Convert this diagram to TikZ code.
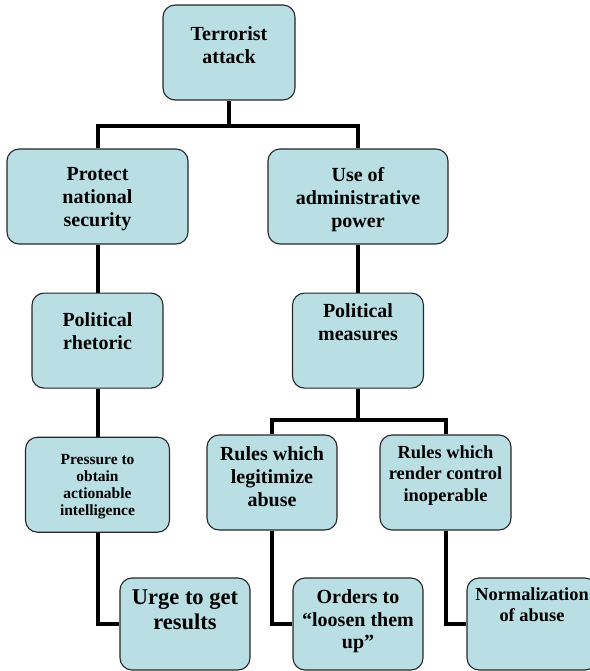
\documentclass[tikz,border=0pt]{standalone}
\usepackage{fontspec}
\setmainfont{Liberation Serif}
\usetikzlibrary{positioning}
\definecolor{boxblue}{RGB}{185,223,228}
\tikzset{
  box/.style={draw=black!85, fill=boxblue, line width=1.1pt, rounded corners=12pt,
    minimum width=130pt, minimum height=95pt, inner sep=0pt},
  wide/.style={box, minimum width=180pt},
  txt/.style={inner sep=0pt, align=center, font=\bfseries\fontsize{20}{23}\selectfont},
  link/.style={line width=4pt}
}

\begin{document}
\begin{tikzpicture}[x=1pt,y=-1pt]
  \useasboundingbox (0,0) rectangle (589,671);
  % boxes
  \node[box, minimum width=132pt] (attack) at (229,52.5) {};
  \node[wide, minimum width=181pt] (security) at (97.5,196.5) {};
  \node[wide] (admin) at (358,196.5) {};
  \node[box, minimum width=131pt] (rhetoric) [below=48pt of security] {};
  \node[box, minimum width=131pt] (measures) [below=48pt of admin] {};
  \node[box, minimum width=144pt] (pressure) [below=48pt of rhetoric] {};
  \node[box] (legit) at (272,482.5) {};
  \node[box, minimum width=131pt] (render) at (445.5,482.5) {};
  \node[box, minimum height=92pt] (urge) at (185,624) {};
  \node[box, minimum height=92pt] (orders) at (358,624) {};
  \node[box, minimum height=92pt] (abuse) at (532,624) {};

  % texts
  \node[txt, below=22pt of attack.north] (attack-t) {Terrorist\\attack};
  \node[txt, below=19pt of security.north] (security-t) {Protect\\national\\security};
  \node[txt, below=19pt of admin.north] (admin-t) {Use of\\administrative\\power};
  \node[txt, below=20pt of rhetoric.north] (rhetoric-t) {Political\\rhetoric};
  \node[txt, below=11pt of measures.north] (measures-t) {Political\\measures};
  \node[txt, below=17pt of pressure.north, font=\bfseries\fontsize{15.5}{17}\selectfont]
    (pressure-t) {Pressure to\\obtain\\actionable\\intelligence};
  \node[txt, below=12pt of legit.north] (legit-t) {Rules which\\legitimize\\abuse};
  \node[txt, below=11pt of render.north, font=\bfseries\fontsize{18.4}{21.5}\selectfont]
    (render-t) {Rules which\\render control\\inoperable};
  \node[txt, below=12pt of urge.north, font=\bfseries\fontsize{22.5}{25}\selectfont]
    (urge-t) {Urge to get\\results};
  \node[txt, below=12pt of orders.north, font=\bfseries\fontsize{20}{22.5}\selectfont]
    (orders-t) {Orders to\\``loosen them\\up''};
  \node[txt, below=10pt of abuse.north, font=\bfseries\fontsize{18.4}{21.5}\selectfont]
    (abuse-t) {Normalization\\of abuse};

  % connectors
  \coordinate (split1) at (229,126);
  \coordinate (split2) at (358,420);
  \draw[link] (attack) -- (split1) -| (security);
  \draw[link] (split1) -| (admin);
  \draw[link] (security) -- (rhetoric);
  \draw[link] (rhetoric) -- (pressure);
  \draw[link] (admin) -- (measures);
  \draw[link] (measures) -- (split2) -| (legit);
  \draw[link] (split2) -| (render);
  \draw[link] (pressure) |- (urge);
  \draw[link] (legit) |- (orders);
  \draw[link] (render) |- (abuse);
\end{tikzpicture}
\end{document}
